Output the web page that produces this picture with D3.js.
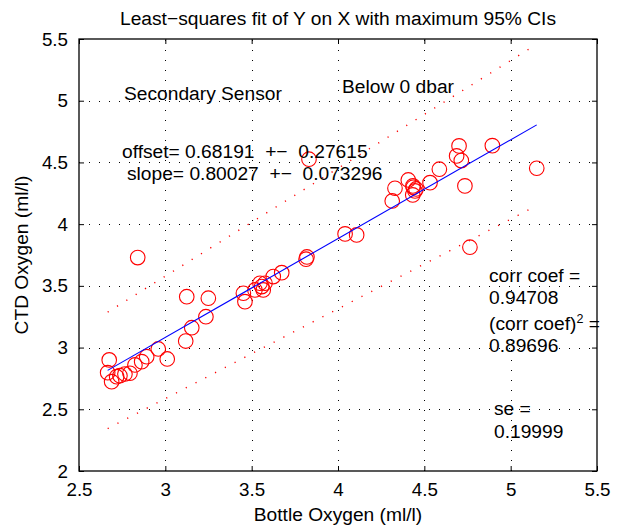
<!DOCTYPE html>
<html>
<head>
<meta charset="utf-8">
<script src="https://cdn.jsdelivr.net/npm/d3@7"></script>
<style>
  html, body { margin: 0; padding: 0; background: #fff; }
  svg { display: block; font-family: "Liberation Sans", Arial, Helvetica, sans-serif; }
</style>
</head>
<body>
<svg id="chart" width="626" height="529"></svg>
<script>
// ---- data ----
const bottleOxygen = [2.840, 3.124, 3.249, 3.235, 3.153, 3.118, 2.959, 3.011, 2.892, 2.863,
  2.824, 2.795, 2.766, 2.737, 2.718, 2.675, 2.666, 2.689,
  3.452, 3.461, 3.519, 3.558, 3.567, 3.548, 3.577, 3.625, 3.674, 3.815, 3.820, 4.041, 4.108,
  4.314, 4.330, 4.407, 4.436, 4.452, 4.434, 4.433, 4.446, 4.533, 4.587, 4.701, 4.687, 4.714,
  4.735, 4.894, 5.151, 4.764, 3.832];
const ctdOxygen = [3.729, 3.412, 3.400, 3.250, 3.161, 3.053, 2.989, 2.908, 2.926, 2.886,
  2.859, 2.792, 2.786, 2.772, 2.764, 2.900, 2.797, 2.724,
  3.440, 3.372, 3.467, 3.494, 3.467, 3.521, 3.521, 3.575, 3.607, 3.716, 3.734, 3.921, 3.913,
  4.188, 4.291, 4.358, 4.299, 4.285, 4.310, 4.237, 4.269, 4.336, 4.445, 4.634, 4.553, 4.515,
  4.310, 4.636, 4.453, 3.813, 4.526];
const fitOffset = 0.68191, fitOffsetErr = 0.27615;
const fitSlope = 0.80027, fitSlopeErr = 0.073296;
const xTicks = [2.5, 3, 3.5, 4, 4.5, 5, 5.5];
const yTicks = [2, 2.5, 3, 3.5, 4, 4.5, 5, 5.5];
const xTickLabels = ["2.5", "3", "3.5", "4", "4.5", "5", "5.5"];
const yTickLabels = ["2", "2.5", "3", "3.5", "4", "4.5", "5", "5.5"];
const titleText = "Least\u2212squares fit of Y on X with maximum 95% CIs";
const xLabelText = "Bottle Oxygen (ml/l)";
const yLabelText = "CTD Oxygen (ml/l)";
const sensorText = "Secondary Sensor";
const depthText = "Below 0 dbar";
const corrCoef = "0.94708", corrCoef2 = "0.89696", seText = "0.19999";

// ---- layout ----
const L = 79, R = 597, T = 39, B = 471;
const FS = 19.2, TFS = 18.8;
const svg = d3.select("#chart");
const x = d3.scaleLinear().domain([2.5, 5.5]).range([L, R]);
const y = d3.scaleLinear().domain([2, 5.5]).range([B, T]);

// grid
const grid = svg.append("g").attr("stroke", "#000").attr("stroke-width", 1)
  .attr("stroke-dasharray", "1,9");
grid.selectAll("line.gx").data(xTicks.slice(1, -1)).join("line")
  .attr("x1", d => Math.round(x(d)) + 0.5).attr("x2", d => Math.round(x(d)) + 0.5)
  .attr("y1", B).attr("y2", T);
grid.selectAll("line.gy").data(yTicks.slice(1, -1)).join("line")
  .attr("y1", d => Math.round(y(d)) + 0.5).attr("y2", d => Math.round(y(d)) + 0.5)
  .attr("x1", L).attr("x2", R);

// axes
const axB = svg.append("g").attr("transform", `translate(0,${B})`)
  .call(d3.axisBottom(x).tickValues(xTicks).tickSize(-5).tickPadding(12)
    .tickFormat((d, i) => xTickLabels[i]));
const axT = svg.append("g").attr("transform", `translate(0,${T})`)
  .call(d3.axisTop(x).tickValues(xTicks).tickSize(-5).tickFormat(""));
const axL = svg.append("g").attr("transform", `translate(${L},0)`)
  .call(d3.axisLeft(y).tickValues(yTicks).tickSize(-5).tickPadding(11)
    .tickFormat((d, i) => yTickLabels[i]));
const axR = svg.append("g").attr("transform", `translate(${R},0)`)
  .call(d3.axisRight(y).tickValues(yTicks).tickSize(-5).tickFormat(""));
[axB, axT, axL, axR].forEach(a => {
  a.select(".domain").remove();
  a.selectAll("line").attr("stroke", "#000").attr("stroke-width", 1);
  a.selectAll("text").attr("fill", "#000").attr("font-size", TFS)
    .attr("font-family", "Liberation Sans, Arial, sans-serif");
});
svg.append("rect").attr("x", L).attr("y", T).attr("width", R - L).attr("height", B - T)
  .attr("fill", "none").attr("stroke", "#000").attr("stroke-width", 1.3);

// CI lines and fit
const xMin = d3.min(bottleOxygen), xMax = d3.max(bottleOxygen);
const line = d3.line().x(d => x(d[0])).y(d => y(d[1]));
const ciUpper = [[xMin, fitOffset + fitOffsetErr + (fitSlope + fitSlopeErr) * xMin],
                 [xMax, fitOffset + fitOffsetErr + (fitSlope + fitSlopeErr) * xMax]];
const ciLower = [[xMin, fitOffset - fitOffsetErr + (fitSlope - fitSlopeErr) * xMin],
                 [xMax, fitOffset - fitOffsetErr + (fitSlope - fitSlopeErr) * xMax]];
svg.selectAll("path.ci").data([ciUpper, ciLower]).join("path")
  .attr("class", "ci").attr("d", line).attr("fill", "none")
  .attr("stroke", "#ff0000").attr("stroke-width", 1.4).attr("stroke-dasharray", "1.2,9.8");

// points
svg.append("g").selectAll("circle").data(bottleOxygen).join("circle")
  .attr("cx", d => x(d)).attr("cy", (d, i) => y(ctdOxygen[i])).attr("r", 7.3)
  .attr("fill", "none").attr("stroke", "#ff0000").attr("stroke-width", 1.1);

// fit line
svg.append("path").datum([[xMin, fitOffset + fitSlope * xMin], [xMax, fitOffset + fitSlope * xMax]])
  .attr("d", line).attr("fill", "none").attr("stroke", "#0000ff").attr("stroke-width", 1.1);

// texts
const txt = (tx, ty, s, anchor = "start", fs = FS) => svg.append("text")
  .attr("x", tx).attr("y", ty).attr("text-anchor", anchor).attr("font-size", fs)
  .attr("fill", "#000").style("white-space", "pre").text(s);
txt((L + R) / 2, 25, titleText, "middle");
txt((L + R) / 2, 521, xLabelText, "middle");
svg.append("text").attr("transform", "translate(28,255) rotate(-90)")
  .attr("text-anchor", "middle").attr("font-size", FS).text(yLabelText);
txt(124, 100, sensorText);
txt(342, 93, depthText);
txt(122, 158, "offset= " + fitOffset + "  +\u2212  " + fitOffsetErr);
txt(127, 180, "slope= " + fitSlope + "  +\u2212  " + fitSlopeErr);
txt(489, 282, "corr coef =");
txt(489, 304, corrCoef);
const t2 = txt(489, 330, "(corr coef)");
t2.append("tspan").attr("dy", -7).attr("font-size", 12.5).text("2");
t2.append("tspan").attr("dy", 7).text(" =");
txt(489, 352, corrCoef2);
txt(494, 415, "se =");
txt(494, 438, seText);
</script>
</body>
</html>
